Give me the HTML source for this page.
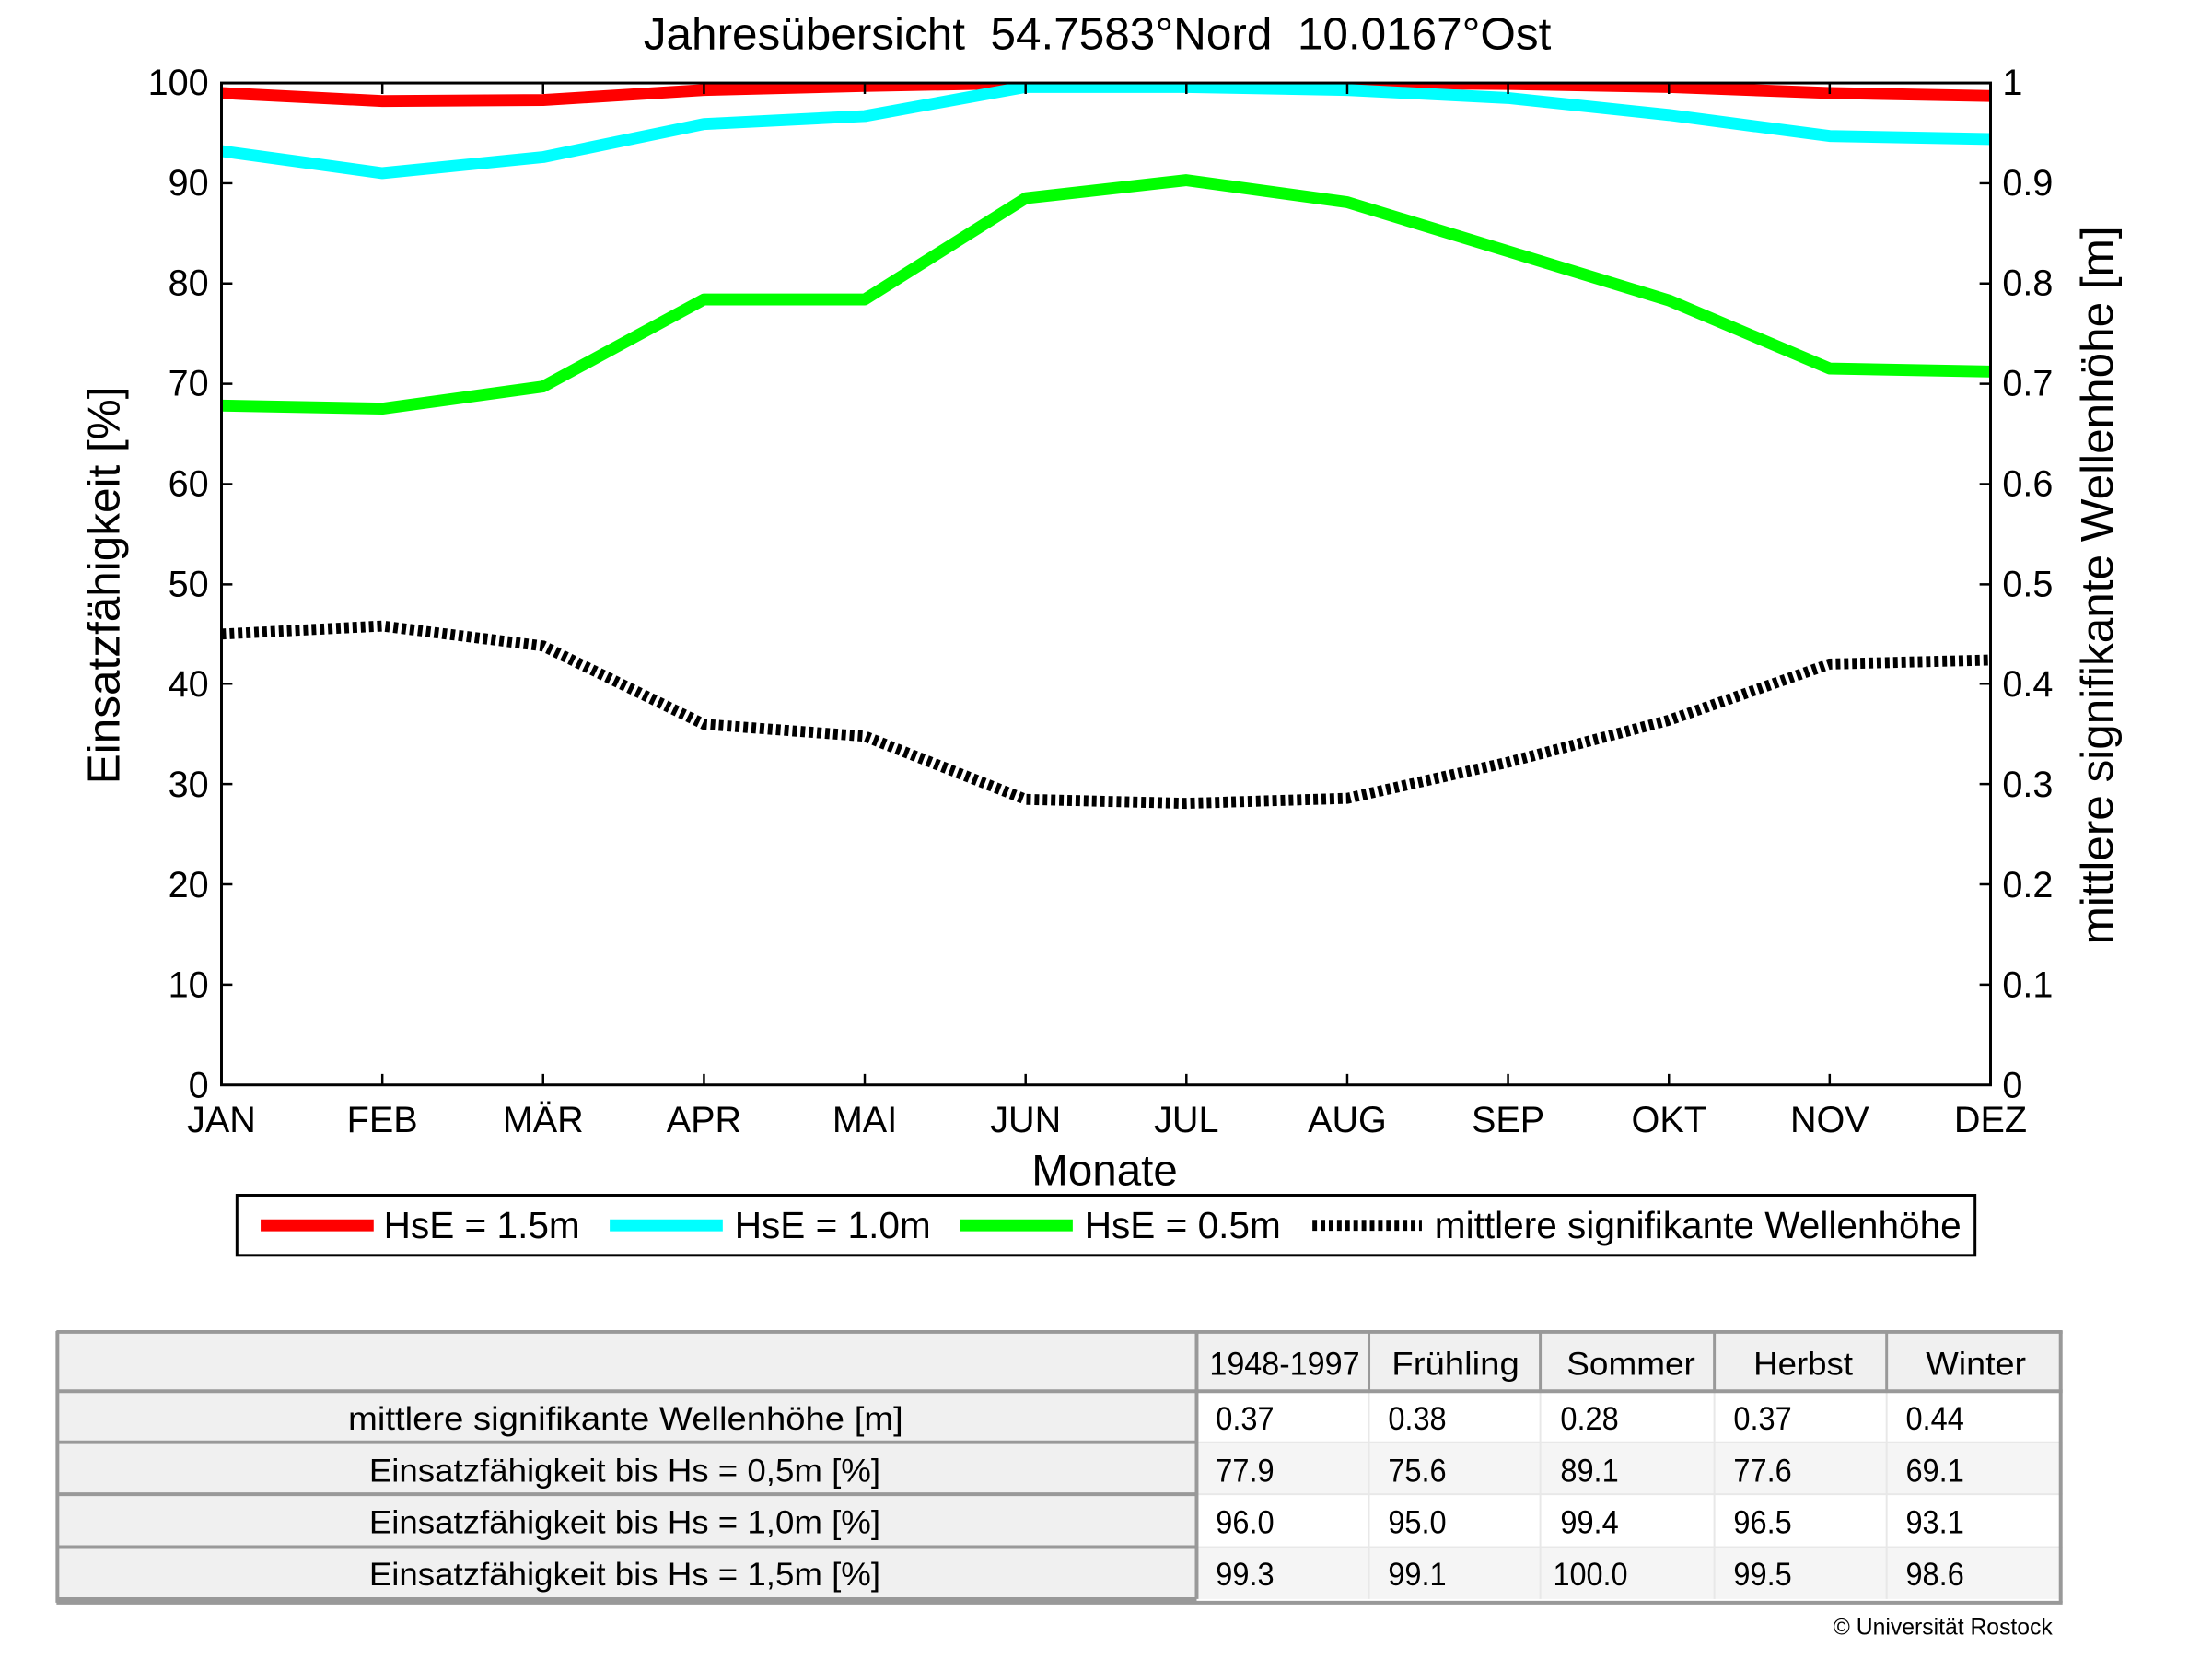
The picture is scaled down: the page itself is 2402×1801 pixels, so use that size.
<!DOCTYPE html>
<html><head><meta charset="utf-8"><style>
html,body{margin:0;padding:0;background:#fff}
svg{display:block}
text{font-family:"Liberation Sans",sans-serif;fill:#000}
</style></head><body>
<svg width="2402" height="1801" viewBox="0 0 2402 1801" xmlns="http://www.w3.org/2000/svg">
<defs><clipPath id="pc"><rect x="243" y="91" width="1941" height="1099"/></clipPath></defs>
<g transform="scale(0.9897)">
<text x="1204" y="54" font-size="50" text-anchor="middle" xml:space="preserve">Jahresübersicht  54.7583°Nord  10.0167°Ost</text>
<g clip-path="url(#pc)" fill="none" stroke-linejoin="round">
<polyline stroke="#f00" stroke-width="13" points="243,102 419.5,110.8 595.9,109.7 772.4,98.7 948.8,94.3 1125.3,91 1301.7,91 1478.2,91 1654.6,92.1 1831.1,95.4 2007.5,102 2184,105.3"/>
<polyline stroke="#0ff" stroke-width="13" points="243,165.7 419.5,189.9 595.9,172.3 772.4,136.1 948.8,127.3 1125.3,95.4 1301.7,95.4 1478.2,98.7 1654.6,107.5 1831.1,126.1 2007.5,149.2 2184,152.5"/>
<polyline stroke="#0f0" stroke-width="13" points="243,444.9 419.5,448.2 595.9,424 772.4,328.4 948.8,328.4 1125.3,217.4 1301.7,197.6 1478.2,221.8 1654.6,275.6 1831.1,329.5 2007.5,404.2 2184,407.5"/>
<polyline stroke="#000" stroke-width="12" stroke-dasharray="5 4" stroke-linejoin="miter" points="243,695.5 419.5,686.7 595.9,708.6 772.4,794.4 948.8,807.6 1125.3,876.8 1301.7,881.2 1478.2,875.7 1654.6,836.1 1831.1,790 2007.5,728.4 2184,724"/>
</g>
<rect x="243" y="91" width="1941" height="1099" fill="none" stroke="#000" stroke-width="3"/>
<g stroke="#000" stroke-width="2.5">
<path d="M243,1080h12M243,970h12M243,860h12M243,750h12M243,641h12M243,531h12M243,421h12M243,311h12M243,201h12"/>
<path d="M2184,1080h-12M2184,970h-12M2184,860h-12M2184,750h-12M2184,641h-12M2184,531h-12M2184,421h-12M2184,311h-12M2184,201h-12"/>
<path d="M419.5,1190v-12M595.9,1190v-12M772.4,1190v-12M948.8,1190v-12M1125.3,1190v-12M1301.7,1190v-12M1478.2,1190v-12M1654.6,1190v-12M1831.1,1190v-12M2007.5,1190v-12"/>
<path d="M419.5,91v12M595.9,91v12M772.4,91v12M948.8,91v12M1125.3,91v12M1301.7,91v12M1478.2,91v12M1654.6,91v12M1831.1,91v12M2007.5,91v12"/>
</g>
<g font-size="40" text-anchor="end">
<text x="229" y="104">100</text><text x="229" y="214">90</text><text x="229" y="324">80</text><text x="229" y="434">70</text><text x="229" y="544">60</text><text x="229" y="654">50</text><text x="229" y="764">40</text><text x="229" y="874">30</text><text x="229" y="984">20</text><text x="229" y="1094">10</text><text x="229" y="1204">0</text>
</g>
<g font-size="40">
<text x="2197" y="104">1</text><text x="2197" y="214">0.9</text><text x="2197" y="324">0.8</text><text x="2197" y="434">0.7</text><text x="2197" y="544">0.6</text><text x="2197" y="654">0.5</text><text x="2197" y="764">0.4</text><text x="2197" y="874">0.3</text><text x="2197" y="984">0.2</text><text x="2197" y="1094">0.1</text><text x="2197" y="1204">0</text>
</g>
<g font-size="40" text-anchor="middle">
<text x="243" y="1242">JAN</text><text x="419.5" y="1242">FEB</text><text x="595.9" y="1242">MÄR</text><text x="772.4" y="1242">APR</text><text x="948.8" y="1242">MAI</text><text x="1125.3" y="1242">JUN</text><text x="1301.7" y="1242">JUL</text><text x="1478.2" y="1242">AUG</text><text x="1654.6" y="1242">SEP</text><text x="1831.1" y="1242">OKT</text><text x="2007.5" y="1242">NOV</text><text x="2184" y="1242">DEZ</text>
</g>
<text x="1212" y="1300" font-size="48" text-anchor="middle">Monate</text>
<text transform="translate(131,642) rotate(-90)" font-size="50" text-anchor="middle">Einsatzfähigkeit [%]</text>
<text transform="translate(2318,642) rotate(-90)" font-size="50" text-anchor="middle">mittlere signifikante Wellenhöhe [m]</text>
<rect x="260" y="1311" width="1907" height="66" fill="#fff" stroke="#000" stroke-width="3"/>
<path d="M286,1344h124" stroke="#f00" stroke-width="13"/>
<path d="M669,1344h124" stroke="#0ff" stroke-width="13"/>
<path d="M1053,1344h124" stroke="#0f0" stroke-width="13"/>
<path d="M1440,1344h120" stroke="#000" stroke-width="12" stroke-dasharray="5 4"/>
<g font-size="41">
<text x="421" y="1358">HsE = 1.5m</text><text x="806" y="1358">HsE = 1.0m</text><text x="1190" y="1358">HsE = 0.5m</text><text x="1574" y="1358">mittlere signifikante Wellenhöhe</text>
</g>
<rect x="62" y="1460" width="2201" height="298" fill="#fff"/>
<rect x="62" y="1460" width="1251" height="294" fill="#f0f0f0"/>
<rect x="1313" y="1460" width="950" height="66" fill="#f0f0f0"/>
<rect x="1313" y="1582" width="950" height="57" fill="#f5f5f5"/>
<rect x="1313" y="1697" width="950" height="57" fill="#f5f5f5"/>
<g stroke="#e8e8e8" stroke-width="2"><path d="M1502,1526v228M1690,1526v228M1881,1526v228M2070,1526v228M1313,1582h950M1313,1639h950M1313,1697h950"/></g>
<g stroke="#999" stroke-width="4" fill="none">
<path d="M62,1461h2201M62,1526h2201M62,1582h1251M62,1639h1251M62,1697h1251M62,1754h1251M62,1758h2201"/>
<path d="M63,1460v298M2261,1460v298M1313,1460v294"/>
<path d="M1502,1460v66M1690,1460v66M1881,1460v66M2070,1460v66" stroke-width="3"/>
</g>
<g font-size="36" fill="#111">
<text x="1327" y="1508" textLength="165" lengthAdjust="spacingAndGlyphs">1948-1997</text>
<text x="1527" y="1508" textLength="140" lengthAdjust="spacingAndGlyphs">Frühling</text>
<text x="1719" y="1508" textLength="141" lengthAdjust="spacingAndGlyphs">Sommer</text>
<text x="1924" y="1508" textLength="109" lengthAdjust="spacingAndGlyphs">Herbst</text>
<text x="2113" y="1508" textLength="110" lengthAdjust="spacingAndGlyphs">Winter</text>
<text x="382" y="1568" textLength="609" lengthAdjust="spacingAndGlyphs">mittlere signifikante Wellenhöhe [m]</text>
<text x="405" y="1625" textLength="561" lengthAdjust="spacingAndGlyphs">Einsatzfähigkeit bis Hs = 0,5m [%]</text>
<text x="405" y="1682" textLength="561" lengthAdjust="spacingAndGlyphs">Einsatzfähigkeit bis Hs = 1,0m [%]</text>
<text x="405" y="1739" textLength="561" lengthAdjust="spacingAndGlyphs">Einsatzfähigkeit bis Hs = 1,5m [%]</text>
</g>
<g font-size="36" fill="#111">
<text x="1334" y="1568" textLength="64" lengthAdjust="spacingAndGlyphs">0.37</text><text x="1523" y="1568" textLength="64" lengthAdjust="spacingAndGlyphs">0.38</text><text x="1712" y="1568" textLength="64" lengthAdjust="spacingAndGlyphs">0.28</text><text x="1902" y="1568" textLength="64" lengthAdjust="spacingAndGlyphs">0.37</text><text x="2091" y="1568" textLength="64" lengthAdjust="spacingAndGlyphs">0.44</text>
<text x="1334" y="1625" textLength="64" lengthAdjust="spacingAndGlyphs">77.9</text><text x="1523" y="1625" textLength="64" lengthAdjust="spacingAndGlyphs">75.6</text><text x="1712" y="1625" textLength="64" lengthAdjust="spacingAndGlyphs">89.1</text><text x="1902" y="1625" textLength="64" lengthAdjust="spacingAndGlyphs">77.6</text><text x="2091" y="1625" textLength="64" lengthAdjust="spacingAndGlyphs">69.1</text>
<text x="1334" y="1682" textLength="64" lengthAdjust="spacingAndGlyphs">96.0</text><text x="1523" y="1682" textLength="64" lengthAdjust="spacingAndGlyphs">95.0</text><text x="1712" y="1682" textLength="64" lengthAdjust="spacingAndGlyphs">99.4</text><text x="1902" y="1682" textLength="64" lengthAdjust="spacingAndGlyphs">96.5</text><text x="2091" y="1682" textLength="64" lengthAdjust="spacingAndGlyphs">93.1</text>
<text x="1334" y="1739" textLength="64" lengthAdjust="spacingAndGlyphs">99.3</text><text x="1523" y="1739" textLength="64" lengthAdjust="spacingAndGlyphs">99.1</text><text x="1704" y="1739" textLength="82" lengthAdjust="spacingAndGlyphs">100.0</text><text x="1902" y="1739" textLength="64" lengthAdjust="spacingAndGlyphs">99.5</text><text x="2091" y="1739" textLength="64" lengthAdjust="spacingAndGlyphs">98.6</text>
</g>
<text x="2252" y="1793" font-size="25" text-anchor="end">© Universität Rostock</text>
</g>
</svg>
</body></html>
